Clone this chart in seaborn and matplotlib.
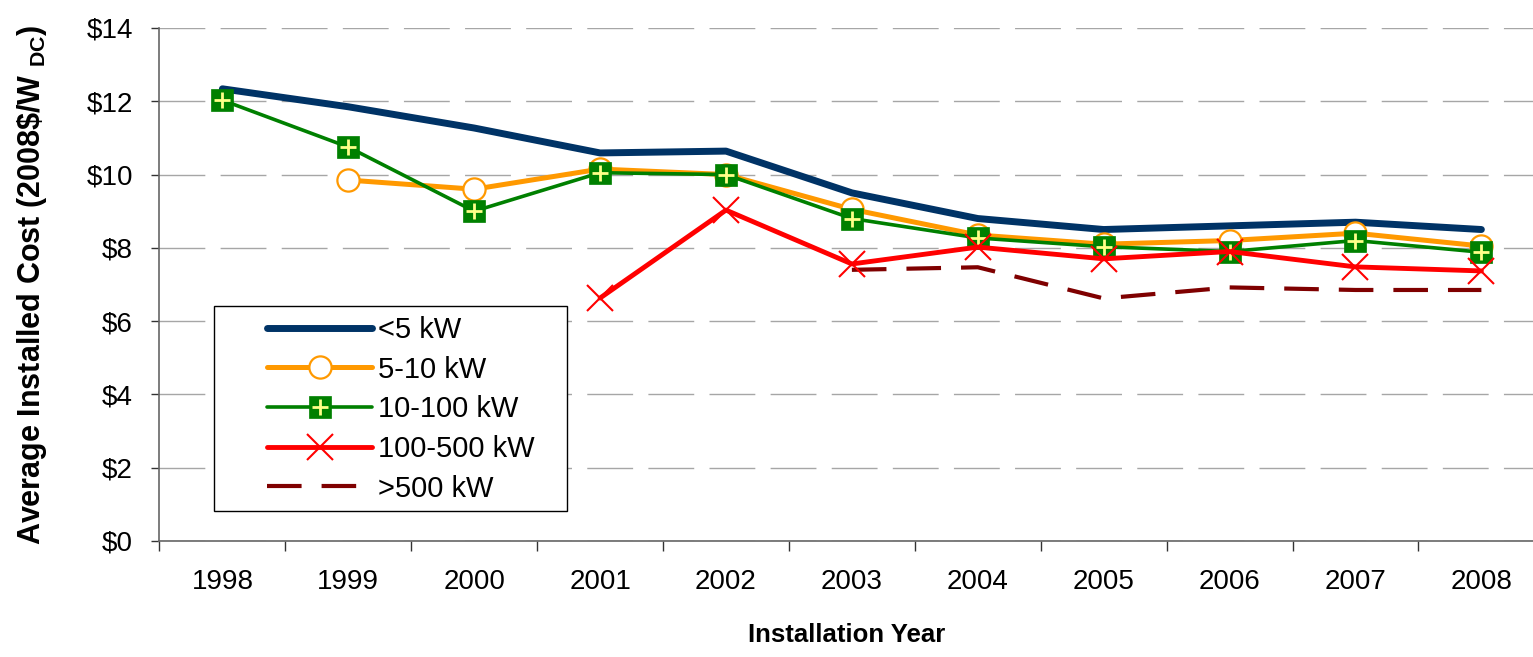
import numpy as np
import pandas as pd
import matplotlib
matplotlib.use("Agg")
import matplotlib.pyplot as plt
import seaborn as sns
from matplotlib.ticker import FixedLocator, FuncFormatter
from matplotlib.legend_handler import HandlerTuple
from matplotlib.patches import Rectangle

# Dados (custo médio instalado, 2008$/W DC)
years = [1998, 1999, 2000, 2001, 2002, 2003, 2004, 2005, 2006, 2007, 2008]
under_5 = [12.34, 11.85, 11.27, 10.59, 10.64, 9.50, 8.80, 8.50, 8.60, 8.70, 8.50]
kw_5_10 = [np.nan, 9.85, 9.60, 10.15, 10.00, 9.05, 8.35, 8.10, 8.20, 8.40, 8.05]
kw_10_100 = [12.03, 10.75, 9.00, 10.05, 10.00, 8.80, 8.27, 8.03, 7.90, 8.20, 7.88]
kw_100_500 = [np.nan, np.nan, np.nan, 6.63, 9.03, 7.56, 8.02, 7.70, 7.90, 7.48, 7.37]
over_500 = [np.nan, np.nan, np.nan, np.nan, np.nan, 7.40, 7.47, 6.62, 6.92, 6.85, 6.85]
labels = ["<5 kW", "5-10 kW", "10-100 kW", "100-500 kW", ">500 kW"]

df = pd.DataFrame({"year": years, labels[0]: under_5, labels[1]: kw_5_10,
                   labels[2]: kw_10_100, labels[3]: kw_100_500, labels[4]: over_500})

sns.set_theme(style="white")
plt.rcParams["font.family"] = ["Liberation Sans", "DejaVu Sans"]
plt.rcParams["mathtext.fontset"] = "custom"
plt.rcParams["mathtext.rm"] = "Liberation Sans"
plt.rcParams["mathtext.bf"] = "Liberation Sans:bold"
for k in ["text.color", "axes.labelcolor", "xtick.labelcolor", "ytick.labelcolor"]:
    plt.rcParams[k] = "black"

fig = plt.figure(figsize=(15.33, 6.57), dpi=100)
ax = fig.add_axes([0.104, 0.1766, 0.896, 0.7808])


def serie(col):
    d = df[["year", col]].dropna()
    return d["year"], d[col]


x, y = serie(labels[0])
sns.lineplot(x=x, y=y, ax=ax, color="#003366", lw=5.0, solid_capstyle="round", zorder=3)
h_navy = ax.lines[-1]

x, y = serie(labels[1])
sns.lineplot(x=x, y=y, ax=ax, color="#FF9900", lw=3.6, marker="o", markersize=16,
             markerfacecolor="white", markeredgecolor="#FF9900", markeredgewidth=1.6, zorder=4)
h_orange = ax.lines[-1]

x, y = serie(labels[2])
sns.lineplot(x=x, y=y, ax=ax, color="#008000", lw=2.6, marker="s", markersize=16,
             markerfacecolor="#008000", markeredgecolor="#008000", markeredgewidth=0.5, zorder=5)
h_green = ax.lines[-1]
sns.lineplot(x=x, y=y, ax=ax, color="#FFFF88", linestyle="none", marker="+", markersize=12,
             markeredgecolor="#FFFF88", markeredgewidth=2.0, zorder=6)
h_plus = ax.lines[-1]

x, y = serie(labels[4])
sns.lineplot(x=x, y=y, ax=ax, color="#7F0000", lw=3.0, dashes=(8.3, 4.8), zorder=6)
h_dash = ax.lines[-1]

x, y = serie(labels[3])
sns.lineplot(x=x, y=y, ax=ax, color="#FF0000", lw=3.5, marker="x", markersize=19,
             markeredgecolor="#FF0000", markeredgewidth=1.5, zorder=7)
h_red = ax.lines[-1]

# Eixos
ax.set_ylim(0, 14)
ax.set_xlim(1997.5, 2008.41)
ax.set_yticks(range(0, 15, 2))
ax.yaxis.set_major_formatter(FuncFormatter(lambda v, p: f"${int(v)}"))
ax.set_xticks(years)
ax.set_xticklabels([str(yr) for yr in years])
ax.xaxis.set_minor_locator(FixedLocator([yr - 0.5 for yr in years]))
ax.tick_params(axis="x", which="major", length=0, pad=20, labelsize=20)
ax.tick_params(axis="x", which="minor", bottom=True, length=7, width=1, color="#333333", direction="out")
ax.tick_params(axis="y", left=True, length=6, width=1, color="#333333", direction="out",
               pad=13, labelsize=20)

ax.grid(axis="y", color="#A6A6A6", lw=1, linestyle=(0, (33, 11)))
ax.set_axisbelow(True)
for side in ["top", "right"]:
    ax.spines[side].set_visible(False)
for side in ["left", "bottom"]:
    ax.spines[side].set_color("#666666")
    ax.spines[side].set_linewidth(1.2)

ax.set_xlabel("Installation Year", fontsize=18.5, fontweight="bold", labelpad=20)
ax.set_ylabel(r"Average Installed Cost (2008\$/W $_{\mathbf{DC}}$)", fontsize=22,
              fontweight="bold", labelpad=27)

# Caixa da legenda
ax.add_patch(Rectangle((214 / 1533, 1 - 511 / 657), (567 - 214) / 1533, 205 / 657,
                       transform=fig.transFigure, facecolor="white", clip_on=False,
                       edgecolor="black", lw=1.0, zorder=8))
leg = ax.legend([h_navy, h_orange, (h_green, h_plus), h_red, h_dash], labels,
                handler_map={tuple: HandlerTuple(ndivide=1, pad=0)},
                loc="upper left", bbox_to_anchor=(267 / 1533, 1 - 316 / 657),
                bbox_transform=fig.transFigure, fontsize=21,
                frameon=False, handlelength=3.6, handletextpad=0.2, labelspacing=0.4,
                borderpad=0, borderaxespad=0, numpoints=1)
leg.set_zorder(9)

fig.savefig("out.png", dpi=100)
